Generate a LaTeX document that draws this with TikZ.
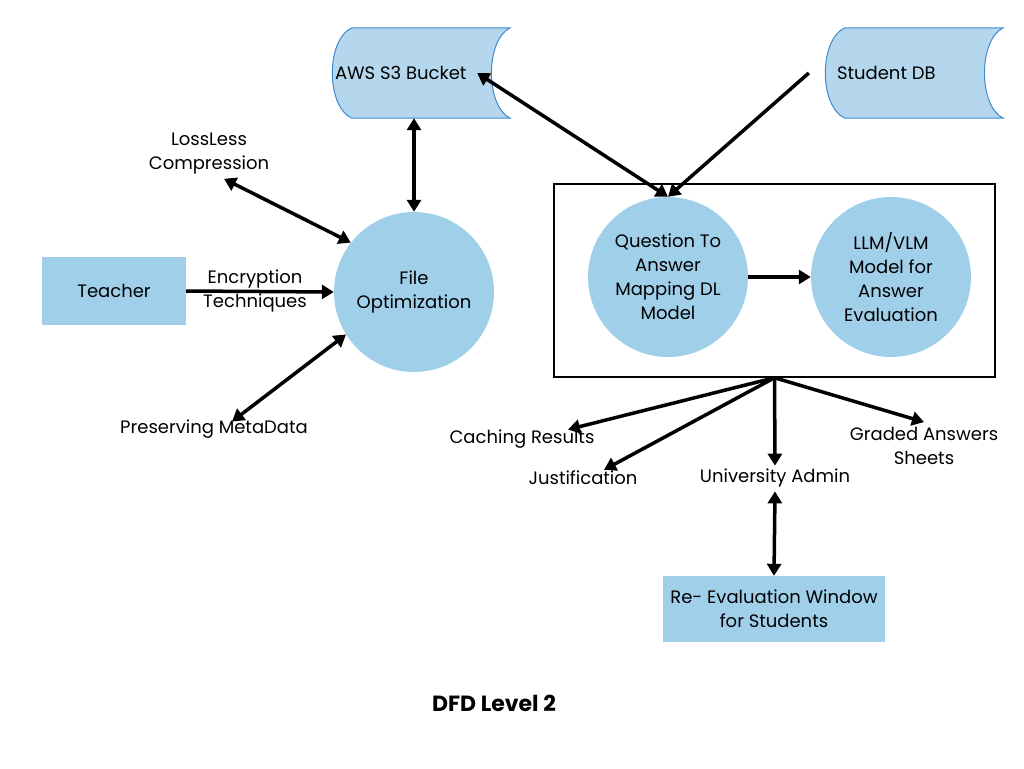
\documentclass[tikz,border=0pt]{standalone}
\usepackage{fontspec}
\setmainfont{Poppins}
\usetikzlibrary{arrows.meta,positioning}
\definecolor{procblue}{HTML}{A0CFEA}
\definecolor{storefill}{HTML}{B4D7EE}
\definecolor{storeline}{HTML}{3D8AD2}
\newcommand\datastore[1]{%
  \draw[storeline, fill=storefill, line width=1pt]
    ([xshift=20pt]#1.north west) -- (#1.north east)
    .. controls +(-25,12) and +(-25,-12) .. (#1.south east)
    -- ([xshift=20pt]#1.south west)
    .. controls +(-26,-12) and +(-26,12) .. ([xshift=20pt]#1.north west) -- cycle;}
\begin{document}
\begin{tikzpicture}[x=1pt, y=-1pt]
    \tikzstyle{every node} = [align=center, inner sep=0pt, font=\fontsize{18}{24}\selectfont]
    \tikzstyle{entity} = [fill=procblue, minimum width=144, minimum height=68]
    \tikzstyle{process} = [circle, fill=procblue, minimum size=160]
    \tikzstyle{store} = [minimum width=178, minimum height=90]
    \tikzstyle{flow} = [line width=3.5pt, -{Triangle[length=12pt,width=14pt]}]
    \tikzstyle{dflow} = [line width=3.5pt, {Triangle[length=12pt,width=14pt]}-{Triangle[length=12pt,width=14pt]}]
    \useasboundingbox (0,0) rectangle (1024,768);
    % data stores
    \node [store] (s3) at (421,73) {};
    \datastore{s3}
    \node [right=3pt of s3.west] (s3txt) {AWS S3 Bucket};
    \node [store] (studentdb) at (914,73) {};
    \datastore{studentdb}
    \node [right=12pt of studentdb.west] (dbtxt) {Student DB};
    % left part
    \node [entity] (teacher) at (114,291) {Teacher};
    \node [process] (fileopt) at (414,292) {File\\Optimization};
    \node (lossless) at (209,154) {LossLess\\Compression};
    \node (encrypt) at (255,291) {Encryption\\Techniques};
    \node (metadata) at (214,429) {Preserving MetaData};
    % evaluation block
    \node [draw, line width=1.5pt, minimum width=441, minimum height=193] (evalbox) at (774.5,280.5) {};
    \node [process] (qmodel) at (668,277) {Question To\\Answer\\Mapping DL\\Model};
    \node [process] (llm) at (891,277) {LLM/VLM\\Model for\\Answer\\Evaluation};
    % outputs
    \node (caching) at (522,439) {Caching Results};
    \node (justif) at (583,478) {Justification};
    \node (admin) at (775,478) {University Admin};
    \node (graded) at (924,446) {Graded Answers\\Sheets};
    \node [entity, minimum width=222, minimum height=66] (reeval) at (774,609) {Re- Evaluation Window\\for Students};
    \node [font=\fontsize{22}{26}\selectfont\bfseries] (title) at (494,703) {DFD Level 2};

    \draw [dflow] (fileopt.north |- s3.south) -- (fileopt.north);
    \draw [dflow] ([xshift=15pt,yshift=-4pt]lossless.south) -- (fileopt.142);
    \draw [flow] (teacher.east) -- (fileopt.west);
    \draw [dflow] ([xshift=18pt,yshift=-2pt]metadata.north) -- (fileopt.212);
    \draw [dflow] ([xshift=-33pt]s3.east) -- (qmodel.north);
    \draw [flow] ([xshift=-16pt]studentdb.west) -- (qmodel.north);
    \draw [flow] (qmodel.east) -- (llm.west);
    \draw [flow] (evalbox.south) -- ([xshift=46pt,yshift=0pt]caching.north);
    \draw [flow] (evalbox.south) -- ([xshift=21pt,yshift=1pt]justif.north);
    \draw [flow] (evalbox.south) -- ([yshift=3pt]admin.north);
    \draw [flow] (evalbox.south) -- ([yshift=5pt]graded.north);
    \draw [dflow] ([yshift=-4pt]admin.south) -- (reeval.north);
\end{tikzpicture}
\end{document}
